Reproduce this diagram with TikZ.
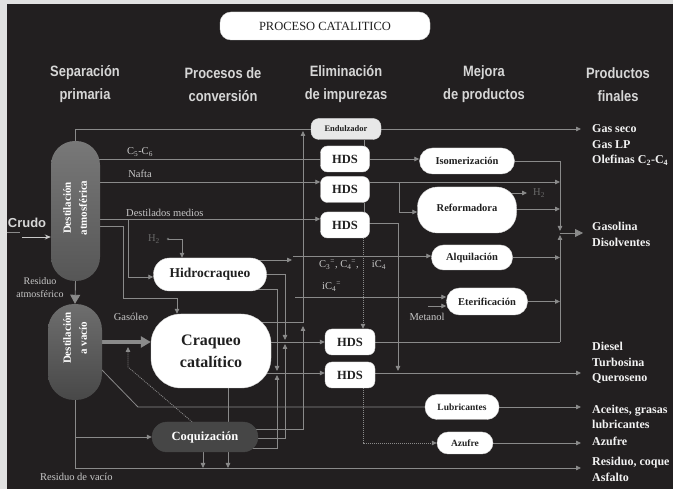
\documentclass[tikz,border=0pt]{standalone}
\usepackage{fontspec}
\setmainfont{Liberation Serif}
\newfontfamily\headfont[FakeStretch=0.86]{Liberation Sans}
\newfontfamily\plainsans{Liberation Sans}
\usetikzlibrary{arrows.meta,calc}
\pgfdeclarelayer{panel}
\pgfdeclarelayer{wires}
\pgfsetlayers{panel,wires,main}

\definecolor{panelbg}{RGB}{34,31,32}
\definecolor{margin}{RGB}{225,225,225}
\definecolor{wire}{RGB}{138,138,138}
\definecolor{lbl}{RGB}{200,200,200}
\definecolor{headc}{RGB}{214,214,214}
\definecolor{dim}{RGB}{105,105,105}
\definecolor{ink}{RGB}{32,32,32}
\definecolor{coqfill}{RGB}{70,70,70}
\definecolor{sweet}{RGB}{232,232,232}
\definecolor{prod}{RGB}{242,242,242}
\definecolor{towtop}{RGB}{120,120,120}
\definecolor{towbot}{RGB}{86,86,86}
\definecolor{vactop}{RGB}{110,110,110}
\definecolor{vacbot}{RGB}{72,72,72}

\newcommand\fsz[2]{\fontsize{#1}{#2}\selectfont}
\newcommand\olef[1]{C\textsubscript{#1}\textsuperscript{=}}

\tikzset{
  wire/.style={draw=wire, line width=0.8pt},
  flow/.style={wire, -{Triangle[length=5pt,width=4.5pt]}},
  dotflow/.style={flow, dash pattern=on 1pt off 1pt},
  bigflow/.style={wire, -{Triangle[length=8pt,width=8pt]}},
  feedflow/.style={draw=wire, line width=3.5pt, -{Triangle[length=10pt,width=11pt]}},
  procbox/.style={fill=white, draw=white!85!black, line width=0.4pt, rounded corners=#1, inner sep=0pt, text=ink, font=\bfseries},
  procbox/.default=8pt,
  hds/.style={procbox=7pt, minimum width=49pt, minimum height=26pt, font=\bfseries\fsz{12.5}{14}},
  column/.style={font=\headfont\bfseries\fsz{15}{23}, text=headc, align=center, inner sep=0pt},
  tag/.style={font=\fsz{10.5}{12}, text=lbl, inner sep=0pt},
  product/.style={font=\bfseries\fsz{12}{15.5}, text=prod, align=left, anchor=west, inner sep=0pt},
  tower/.style={inner sep=0pt, draw=none},
  towertext/.style={rotate=90, text=white, font=\bfseries\fsz{11}{16}, align=center, inner sep=0pt},
}

\begin{document}
\begin{tikzpicture}[x=1pt,y=-1pt]
\useasboundingbox (0,0) rectangle (673,489);
\begin{pgfonlayer}{panel}
  \fill[margin] (0,0) rectangle (673,489);
  \fill[panelbg] (7,4) rectangle (673,489);
\end{pgfonlayer}

% ---------- title and column headings ----------
\node[procbox=11pt, minimum width=210pt, minimum height=28pt, font=\fsz{12.5}{14}] (title) at (325,26) {PROCESO CATALITICO};
\node[column] (hSep)  at (85,84.5)  {Separación\\primaria};
\node[column] (hConv) at (223,84.5) {Procesos de\\conversión};
\node[column] (hElim) at (346,84.5) {Eliminación\\de impurezas};
\node[column] (hMej)  at (484,84.5) {Mejora\\de productos};
\node[column] (hProd) at (618,84.5) {Productos\\finales};

% ---------- distillation towers ----------
\node[tower, minimum width=49pt, minimum height=140pt, rounded corners=24pt, top color=towtop, bottom color=towbot] (atm) at (75.5,211) {};
\node[towertext] (atmT) at (75,208) {Destilación\\atmosférica};
\node[tower, minimum width=54pt, minimum height=96pt, rounded corners=26pt, top color=vactop, bottom color=vacbot] (vac) at (75,352) {};
\node[towertext] (vacT) at (75,338) {Destilación\\a vacío};

% ---------- conversion units ----------
\node[procbox=16pt, minimum width=113pt, minimum height=33pt, font=\bfseries\fsz{13.5}{15}] (hidro) at (210,274.5) {Hidrocraqueo};
\node[procbox=30pt, minimum width=120pt, minimum height=74pt, align=center, font=\bfseries\fsz{16}{22}] (craq) at (211,351) {Craqueo\\catalítico};
\node[procbox=15pt, fill=coqfill, draw=coqfill, text=white, minimum width=106pt, minimum height=30pt, font=\bfseries\fsz{12.5}{14}] (coq) at (205,437) {Coquización};

% ---------- treating units ----------
\node[procbox=8pt, fill=sweet, minimum width=70pt, minimum height=21pt, font=\bfseries\fsz{8.5}{10}] (endul) at (346,129) {Endulzador};
\node[hds] (hdsA) at (345,159) {HDS};
\node[hds] (hdsB) at (345,189.5) {HDS};
\node[hds] (hdsC) at (345,225) {HDS};
\node[hds, minimum width=50pt] (hdsD) at (350,342) {HDS};
\node[hds, minimum width=50pt] (hdsE) at (350,375) {HDS};

% ---------- upgrading units ----------
\node[procbox=13pt, minimum width=95pt, minimum height=26pt, font=\bfseries\fsz{10.5}{12}] (isom)  at (467,161)   {Isomerización};
\node[procbox=20pt, minimum width=99pt, minimum height=46pt, font=\bfseries\fsz{10.5}{12}] (refor) at (467,210)   {\raisebox{4pt}{Reformadora}};
\node[procbox=12pt, minimum width=81pt, minimum height=25pt, font=\bfseries\fsz{10.5}{12}] (alqu)  at (472,257.5) {Alquilación};
\node[procbox=13pt, minimum width=81pt, minimum height=27pt, font=\bfseries\fsz{10.5}{12}] (eter)  at (487,301.5) {Eterificación};
\node[procbox=12pt, minimum width=74pt, minimum height=25pt, font=\bfseries\fsz{9.5}{11}]  (lubr)  at (462,407)   {Lubricantes};
\node[procbox=11pt, minimum width=56pt, minimum height=22pt, font=\bfseries\fsz{9.5}{11}]  (azuf)  at (465,443)   {Azufre};

% ---------- final products ----------
\node[product] (pGas)  at (592,145)   {Gas seco\\Gas LP\\Olefinas C\textsubscript{2}-C\textsubscript{4}};
\node[product] (pGsl)  at (592,234.5) {Gasolina\\Disolventes};
\node[product] (pDsl)  at (592,363)   {Diesel\\Turbosina\\Queroseno};
\node[product] (pLub)  at (592,417)   {Aceites, grasas\\lubricantes};
\node[product] (pAzf)  at (592,441)   {Azufre};
\node[product] (pRes)  at (592,469.5) {Residuo, coque\\Asfalto};

% ---------- stream labels ----------
\node[font=\plainsans\bfseries\fsz{13}{15}, text=headc, inner sep=0pt] (crudo) at (27,223) {Crudo};
\node[tag] (tC5)  at (140,152) {C\textsubscript{5}-C\textsubscript{6}};
\node[tag] (tNaf) at (140,174) {Nafta};
\node[tag, anchor=west] (tDM) at (126,213) {Destilados medios};
\node[tag, align=center, font=\fsz{10}{12.5}] (tRA) at (40,287.5) {Residuo\\atmosférico};
\node[tag] (tGO)  at (131,317) {Gasóleo};
\node[tag, anchor=west] (tRV) at (40,477) {Residuo de vacío};
\node[tag, text=dim, anchor=east] (tH2a) at (160,239) {H\textsubscript{2}};
\node[tag, text=dim, anchor=west] (tH2b) at (533,193) {H\textsubscript{2}};
\node[tag, anchor=west] (tOl) at (319,265) {\olef{3}, \olef{4}, \quad iC\textsubscript{4}};
\node[tag, anchor=west] (tiC) at (322,287) {i\olef{4}};
\node[tag] (tMet) at (427,317) {Metanol};

% ---------- junction and end coordinates ----------
\coordinate (gasP)  at (581,129);
\coordinate (gslP)  at (583,233);
\coordinate (dslP)  at (581,373);
\coordinate (resP)  at (581,468);
\coordinate (colTop) at (560,161);
\coordinate (colA)  at (560,231);
\coordinate (colB)  at (560,235);
\coordinate (colBot) at (560,342);
\coordinate (colMid) at (560,233);
\coordinate (nafIn) at ([yshift=7.5pt]hdsB.west);
\coordinate (nafOut) at ([yshift=7.5pt]hdsB.east);
\coordinate (dmIn)  at ([yshift=6pt]hdsC.west);
\coordinate (dmX)   at (128,0);
\coordinate (hcIn)  at ([yshift=-2.5pt]hidro.west);
\coordinate (gv1)   at (123,226);
\coordinate (gv2)   at (177,298);
\coordinate (h2dot) at (168,239);
\coordinate (hcGas) at (292,260);
\coordinate (c3a)   at (293,256);
\coordinate (c4a)   at (295,297);
\coordinate (metA)  at (428,306);
\coordinate (riseCk) at (303,322);
\coordinate (riseTop) at (303,131);
\coordinate (cq1)   at (303,429);
\coordinate (coqRise) at (303,326);
\coordinate (hx1)   at (285,274);
\coordinate (hx2)   at (277,289);
\coordinate (cx1)   at (285,438);
\coordinate (cx2)   at (277,448);
\coordinate (eIn)   at ([yshift=2pt]hdsE.west);
\coordinate (eOut)  at ([yshift=2pt]hdsE.east);
\coordinate (goIn)  at ([yshift=9pt]craq.west);
\coordinate (dq1)   at (128,367);
\coordinate (dq2)   at (128,347);
\coordinate (lb1)   at (102,370);
\coordinate (lb2)   at (138,407);
\coordinate (cdTop) at ([xshift=17pt]craq.south);
\coordinate (qdTop) at ([xshift=-2pt]coq.south);
\coordinate (eA)    at ([xshift=19pt]hdsA.north);
\coordinate (eB)    at ([xshift=19pt]hdsB.south);
\coordinate (rfX)   at (399,0);
\coordinate (rfIn)  at ([yshift=-2pt]refor.west);
\coordinate (rhEnd) at (527,193);
\coordinate (rfc)   at (560,209);
\coordinate (hdX)   at (398,223);
\coordinate (dA)    at ([xshift=18pt]hdsC.south);
\coordinate (dB)    at ([xshift=13pt]hdsE.south);
\coordinate (crA)   at (7,232);
\coordinate (crB)   at (20,232);
\coordinate (crC)   at (22,237);

\begin{pgfonlayer}{wires}
% crude feed
\draw[wire] (crA) -- (crB);
\draw[draw=lbl, line width=0.9pt, -{Stealth[length=6pt,width=5pt]}] (crC) -- (crC -| atm.west);
% gas header to the sweetening unit
\draw[wire] (atm.north) |- (endul.west);
\draw[flow] (endul.east) -- (gasP);
% atmospheric cuts
\draw[wire] (atm.center |- hdsA.west) -- (hdsA.west);
\draw[flow] (atm.center |- nafIn) -- (nafIn);
\draw[flow] (atm.center |- dmIn) -- (dmIn);
\draw[flow] (dmIn -| dmX) |- (hcIn);
\draw[flow] (atm.center |- gv1) -- (gv1) |- (gv2) -- (gv2 |- craq.north);
% atmospheric residue to vacuum tower
\draw[draw=wire, line width=0.9pt, -{Triangle[length=9pt,width=10pt]}] (atm.south) -- (vac.north);
% hydrogen to hydrocracker
\fill[dim] (h2dot) circle (1.4pt);
\draw[flow] (h2dot) -| ([xshift=-28pt]hidro.north);
% light olefins
\draw[flow] (hidro.center |- hcGas) -- (hcGas);
\draw[flow] (c3a) -- (c3a -| alqu.west);
\draw[flow] (c4a) -- (c4a -| eter.west);
\draw[flow] (metA) -- (metA -| eter.west);
% gas riser to the header
\draw[flow] (craq.center |- riseCk) -- (riseCk) -- (riseTop);
\draw[flow] (coq.center |- cq1) -- (cq1) -- (coqRise);
% hydrocracker and coker distillates to the HDS units
\draw[flow] (hidro.center |- hx1) -- (hx1) -- ($(hdsD.west -| hx1)+(0,-2)$);
\draw[flow] (coq.center |- cx1) -- (cx1) -- ($(hdsD.west -| cx1)+(0,2)$);
\draw[flow] (hidro.center |- hx2) -- (hx2) -- ($(eIn -| hx2)+(0,-2)$);
\draw[flow] (coq.center |- cx2) -- (cx2) -- ($(eIn -| cx2)+(0,2)$);
\draw[flow] (craq.center |- hdsD.west) -- (hdsD.west);
\draw[flow] (craq.center |- eIn) -- (eIn);
% vacuum gas oil to the cracker
\draw[feedflow] (vac.center |- goIn) -- (goIn);
\draw[dotflow] ([xshift=-13pt]coq.north) -- (dq1) -- (dq2);
% lube cut
\draw[wire] (vac.center |- lb1) -- (lb1) -- (lb2) -- (lubr.west);
% vacuum residue
\draw[flow] (vac.south) |- (resP);
\draw[flow] (vac.south |- coq.west) -- (coq.west);
\draw[flow] (cdTop) -- (cdTop |- resP);
\draw[flow] (qdTop) -- (qdTop |- resP);
% top HDS train
\draw[flow] (hdsA.east) -- (hdsA.east -| isom.west);
\draw[wire] (eA) -- (eA |- endul.south);
\draw[wire] (eB) -- (eB |- hdsC.north);
% gasoline pool collector
\draw[wire] (isom.east) -- (colTop);
\draw[flow] (colTop) -- (colA);
\draw[flow] (colBot) -- (colB);
\draw[bigflow] (colMid) -- (gslP);
\draw[flow] (nafOut) -- (nafOut -| colTop);
\draw[flow] (nafOut -| rfX) |- (rfIn);
\draw[flow] (refor.center |- rhEnd) -- (rhEnd);
\draw[flow] (refor.center |- rfc) -- (rfc);
\draw[flow] (alqu.east) -- (alqu.east -| colTop);
\draw[flow] (eter.east) -- (eter.east -| colTop);
\draw[wire] (hdsD.east) -- (colBot);
% middle distillates
\draw[flow] (hdsC.center |- hdX) -- (hdX) -- ($(hdX |- eOut)+(0,-2)$);
\draw[flow] (eOut) -- (dslP);
% sulfur
\draw[dotflow] (dA) -- (dA |- hdsD.north);
\draw[dotflow] (dB) |- (azuf.west);
\draw[flow] (azuf.east) -- (azuf.east -| dslP);
\draw[flow] (lubr.east) -- (lubr.east -| dslP);
\end{pgfonlayer}
\end{tikzpicture}
\end{document}
